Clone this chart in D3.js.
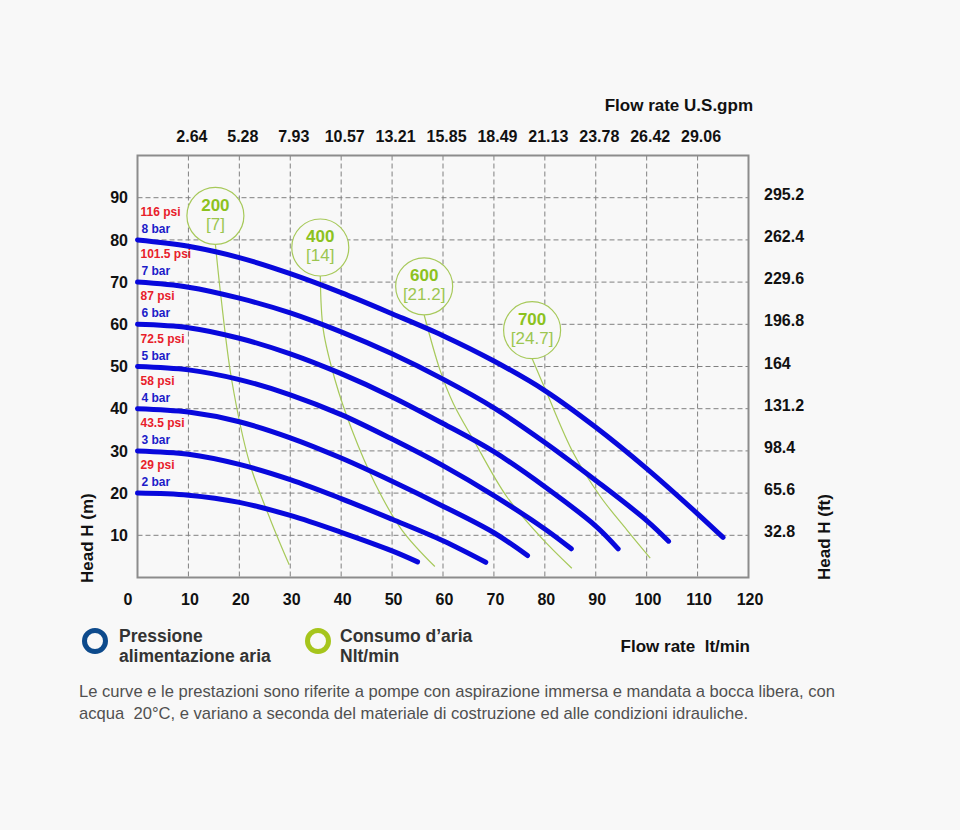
<!DOCTYPE html>
<html>
<head>
<meta charset="utf-8">
<script src="https://cdn.jsdelivr.net/npm/d3@7"></script>
<style>
  body { margin: 0; background: #f8f8f8; }
  svg { display: block; }
</style>
</head>
<body>
<svg id="chart"></svg>
<script>
// flow rate ticks (lt/min) and matching US gpm labels
let flowTicks = [10, 20, 30, 40, 50, 60, 70, 80, 90, 100, 110];
let gpmLabels = ["2.64", "5.28", "7.93", "10.57", "13.21", "15.85", "18.49", "21.13", "23.78", "26.42", "29.06"];
let bottomTicks = [0, 10, 20, 30, 40, 50, 60, 70, 80, 90, 100, 110, 120];

// head ticks (m) and feet labels
let headTicks = [10, 20, 30, 40, 50, 60, 70, 80, 90];
let ftLabels = ["32.8", "65.6", "98.4", "131.2", "164", "196.8", "229.6", "262.4", "295.2"];

// pressure curves: [flow lt/min, head m]
let barNames = ["8 bar", "7 bar", "6 bar", "5 bar", "4 bar", "3 bar", "2 bar"];
let psiNames = ["116 psi", "101.5 psi", "87 psi", "72.5 psi", "58 psi", "43.5 psi", "29 psi"];
let startHeads = [80, 70, 60, 50, 40, 30, 20];
let curve8 = [[0, 80], [10, 78.5], [20, 75.8], [30, 72], [40, 67.5], [50, 62.5], [60, 57.3], [70, 51.3], [80, 44.3], [90, 35.6], [100, 25.8], [110, 15.1], [115, 9.5]];
let curve7 = [[0, 70], [10, 68.8], [20, 66.2], [30, 62.7], [40, 58.2], [50, 53], [60, 47], [70, 40.2], [80, 32], [90, 23], [100, 13.5], [104.3, 8.6]];
let curve6 = [[0, 60], [10, 59.2], [20, 56.7], [30, 53], [40, 48.3], [50, 42.8], [60, 36.5], [70, 29.8], [80, 21.5], [90, 12.2], [94.4, 6.8]];
let curve5 = [[0, 50], [10, 49.2], [20, 46.9], [30, 43.3], [40, 38.6], [50, 32.8], [60, 26.5], [70, 19.4], [80, 11.5], [85.2, 6.8]];
let curve4 = [[0, 40], [10, 39.2], [20, 36.9], [30, 33.1], [40, 28.3], [50, 22.8], [60, 16.9], [70, 10.6], [76.6, 5.2]];
let curve3 = [[0, 30], [10, 29.2], [20, 26.8], [30, 23.2], [40, 18.7], [50, 13.8], [60, 8.7], [68.4, 3.6]];
let curve2 = [[0, 20], [10, 19.5], [20, 17.8], [30, 14.7], [40, 10.7], [50, 6.3], [55, 3.7]];

// air consumption curves (Nlt/min [scfm])
let airNames = ["200", "400", "600", "700"];
let airScfm = ["[7]", "[14]", "[21.2]", "[24.7]"];
let airBubbles = [[15.3, 85.7], [35.9, 78.2], [56.3, 69.0], [77.5, 58.6]];
let air200 = [[15.3, 78.9], [16.4, 66.4], [18.5, 46.8], [22, 27.2], [26.1, 13.7], [29.8, 3.0]];
let air400 = [[35.9, 71.5], [36.5, 58.6], [38.8, 46.8], [42.1, 35], [46.6, 22.4], [51.9, 11.3], [58.4, 2.6]];
let air600 = [[56.3, 62.2], [59.4, 49.2], [62.0, 41.3], [66, 32.6], [72.5, 19.2], [79.1, 9.7], [85.3, 2.2]];
let air700 = [[77.5, 51.9], [80.4, 43.7], [85.6, 29.5], [90.9, 19.2], [96.1, 11.3], [100.7, 4.6]];

drawChart();

function drawChart() {
    let svgWidth = 960, svgHeight = 830;
    let left = 137.5, right = 748.5, top = 155.5, bottom = 577.5;
    let font = "'Liberation Sans', Arial, sans-serif";
    let blue = "#0808dc", green = "#a7c95a", greenText = "#8cc21e";
    let bg = "#f8f8f8";

    let svg = d3.select("#chart")
        .attr("width", svgWidth)
        .attr("height", svgHeight)
        .style("background", bg);

    let x = d3.scaleLinear().domain([0, 120]).range([left, right]);
    let y = d3.scaleLinear().domain([0, 100]).range([bottom, top]);

    // grid
    let grid = svg.append("g")
        .attr("stroke", "#808080")
        .attr("stroke-width", 1)
        .attr("stroke-dasharray", "5,3");
    grid.selectAll(".vx").data(flowTicks).enter().append("line")
        .attr("x1", d => x(d)).attr("x2", d => x(d))
        .attr("y1", top).attr("y2", bottom);
    grid.selectAll(".hy").data(headTicks).enter().append("line")
        .attr("x1", left).attr("x2", right)
        .attr("y1", d => y(d)).attr("y2", d => y(d));

    // frame
    svg.append("rect")
        .attr("x", left).attr("y", top)
        .attr("width", right - left).attr("height", bottom - top)
        .attr("fill", "none")
        .attr("stroke", "#8c8c8c")
        .attr("stroke-width", 2);

    // axes
    function styleAxis(g) {
        g.select(".domain").remove();
        g.selectAll("text")
            .attr("font-family", font)
            .attr("font-size", 16)
            .attr("font-weight", "bold")
            .attr("fill", "#111");
    }

    svg.append("g")
        .attr("transform", "translate(0," + bottom + ")")
        .call(d3.axisBottom(x).tickValues(bottomTicks).tickSize(0).tickPadding(16))
        .call(styleAxis)
        .selectAll("text")
        .attr("dx", d => d === 0 ? -10 : 1);

    svg.append("g")
        .attr("transform", "translate(0," + top + ")")
        .call(d3.axisTop(x).tickValues(flowTicks).tickSize(0).tickPadding(13.5)
            .tickFormat((d, i) => gpmLabels[i]))
        .call(styleAxis)
        .selectAll("text")
        .attr("dx", 3);

    svg.append("g")
        .attr("transform", "translate(" + left + ",0)")
        .call(d3.axisLeft(y).tickValues(headTicks).tickSize(0).tickPadding(9.5))
        .call(styleAxis);

    svg.append("g")
        .attr("transform", "translate(" + right + ",0)")
        .call(d3.axisRight(y).tickValues(headTicks).tickSize(0).tickPadding(15.5)
            .tickFormat((d, i) => ftLabels[i]))
        .call(styleAxis)
        .selectAll("text")
        .attr("dy", "0.1em");

    // axis titles
    let titles = svg.append("g")
        .attr("font-family", font)
        .attr("font-weight", "bold")
        .attr("fill", "#111");
    titles.append("text")
        .attr("x", 753).attr("y", 111)
        .attr("text-anchor", "end")
        .attr("font-size", 17)
        .text("Flow rate U.S.gpm");
    titles.append("text")
        .attr("x", 750).attr("y", 652)
        .attr("text-anchor", "end")
        .attr("font-size", 17)
        .style("white-space", "pre")
        .text("Flow rate  lt/min");
    titles.append("text")
        .attr("transform", "translate(93,583) rotate(-90)")
        .attr("font-size", 17)
        .text("Head H (m)");
    titles.append("text")
        .attr("transform", "translate(830,580) rotate(-90)")
        .attr("font-size", 17)
        .text("Head H (ft)");

    // air consumption lines
    let airLine = d3.line()
        .x(d => x(d[0]))
        .y(d => y(d[1]))
        .curve(d3.curveCatmullRom);
    [air200, air400, air600, air700].forEach(function (pts) {
        svg.append("path")
            .datum(pts)
            .attr("fill", "none")
            .attr("stroke", green)
            .attr("stroke-width", 1.2)
            .attr("d", airLine);
    });

    // bubbles
    let bub = svg.selectAll(".bubble").data(airBubbles).enter().append("g")
        .attr("transform", d => "translate(" + x(d[0]) + "," + y(d[1]) + ")");
    bub.append("circle")
        .attr("r", 28.5)
        .attr("fill", bg)
        .attr("stroke", green)
        .attr("stroke-width", 1.2);
    bub.append("text")
        .attr("y", -5)
        .attr("text-anchor", "middle")
        .attr("font-family", font)
        .attr("font-size", 17)
        .attr("font-weight", "bold")
        .attr("fill", greenText)
        .text((d, i) => airNames[i]);
    bub.append("text")
        .attr("y", 14)
        .attr("text-anchor", "middle")
        .attr("font-family", font)
        .attr("font-size", 17)
        .attr("fill", "#9cc650")
        .text((d, i) => airScfm[i]);

    // pressure curves
    let line = d3.line()
        .x(d => x(d[0]))
        .y(d => y(d[1]))
        .curve(d3.curveCatmullRom.alpha(0.5));
    [curve8, curve7, curve6, curve5, curve4, curve3, curve2].forEach(function (pts) {
        svg.append("path")
            .datum(pts)
            .attr("fill", "none")
            .attr("stroke", blue)
            .attr("stroke-width", 5)
            .attr("stroke-linecap", "round")
            .attr("d", line);
    });

    // pressure labels
    let lab = svg.append("g")
        .attr("font-family", font)
        .attr("font-size", 12)
        .attr("font-weight", "bold");
    lab.selectAll(".psi").data(startHeads).enter().append("text")
        .attr("x", x(0) + 3)
        .attr("y", d => y(d) - 24)
        .attr("fill", "#e8202a")
        .text((d, i) => psiNames[i]);
    lab.selectAll(".bar").data(startHeads).enter().append("text")
        .attr("x", x(0) + 4)
        .attr("y", d => y(d) - 7)
        .attr("fill", "#1c1cc8")
        .text((d, i) => barNames[i]);

    // legend
    let leg = svg.append("g")
        .attr("font-family", font)
        .attr("font-size", 17.5)
        .attr("font-weight", "bold")
        .attr("fill", "#333");
    leg.append("circle")
        .attr("cx", 95).attr("cy", 641).attr("r", 10.5)
        .attr("fill", "none").attr("stroke", "#0d4a8c").attr("stroke-width", 5);
    leg.append("text").attr("x", 119).attr("y", 642).text("Pressione");
    leg.append("text").attr("x", 119).attr("y", 662).text("alimentazione aria");
    leg.append("circle")
        .attr("cx", 318).attr("cy", 641).attr("r", 10.5)
        .attr("fill", "none").attr("stroke", "#a6c51c").attr("stroke-width", 5);
    leg.append("text").attr("x", 340).attr("y", 642).text("Consumo d’aria");
    leg.append("text").attr("x", 340).attr("y", 662).text("Nlt/min");

    // footnote
    let note = svg.append("g")
        .attr("font-family", "'Liberation Sans Narrow', 'Arial Narrow', 'Liberation Sans', sans-serif")
        .attr("font-size", 17)
        .attr("fill", "#505050");
    note.append("text")
        .attr("x", 79).attr("y", 697)
        .attr("textLength", 756)
        .attr("lengthAdjust", "spacingAndGlyphs")
        .text("Le curve e le prestazioni sono riferite a pompe con aspirazione immersa e mandata a bocca libera, con");
    note.append("text")
        .attr("x", 79).attr("y", 719)
        .attr("textLength", 669)
        .attr("lengthAdjust", "spacingAndGlyphs")
        .style("white-space", "pre")
        .text("acqua  20°C, e variano a seconda del materiale di costruzione ed alle condizioni idrauliche.");
}
</script>
</body>
</html>
